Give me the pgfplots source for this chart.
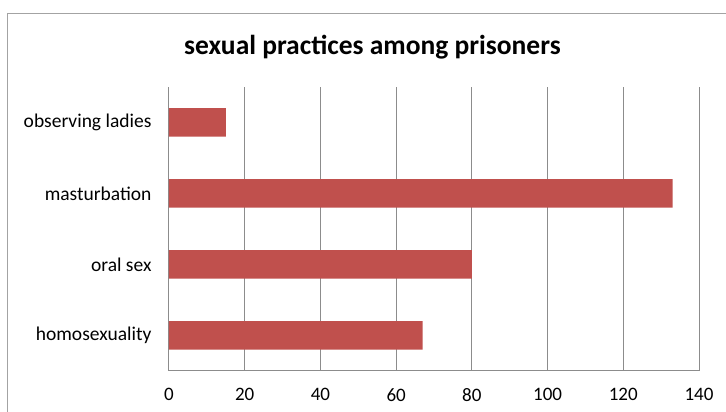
\documentclass[border=0pt]{standalone}
\usepackage{pgfplots}
\pgfplotsset{compat=1.18}
\usepackage{fontspec}
\setmainfont{Carlito}
\definecolor{barred}{HTML}{C0504D}
\definecolor{gridgray}{HTML}{8C8C8C}
\begin{document}
\begin{tikzpicture}[x=1pt,y=1pt]
\path[use as bounding box] (-169,-41) rectangle (557,371);
\draw[gridgray!80, line width=1pt] (-161,-60) -- (-161,357) -- (600,357);
\node[font=\fontsize{27.5}{30}\selectfont\bfseries] at (203.5,324) {sexual practices among prisoners};
\begin{axis}[at={(0,0)}, anchor=south west, scale only axis,
  width=530pt, height=284pt,
  xbar, bar width=28.5pt,
  xmin=0, xmax=140, ymin=-0.5, ymax=3.5,
  xtick={0,20,...,140}, ytick={0,1,2,3},
  yticklabels={homosexuality,oral sex,masturbation,observing ladies},
  xmajorgrids, major grid style={gridgray, line width=1pt},
  axis x line*=bottom, axis y line*=left,
  axis line style={gridgray, line width=1pt, -},
  major tick length=0,
  yticklabel style={font=\fontsize{19.5}{22}\selectfont, xshift=-14pt},
  xticklabel style={font=\fontsize{19}{22}\selectfont, yshift=-14pt},
  /pgf/number format/assume math mode=true]
\addplot[fill=barred, draw=none] coordinates {(67,0) (80,1) (133,2) (15,3)};
\end{axis}
\end{tikzpicture}
\end{document}
